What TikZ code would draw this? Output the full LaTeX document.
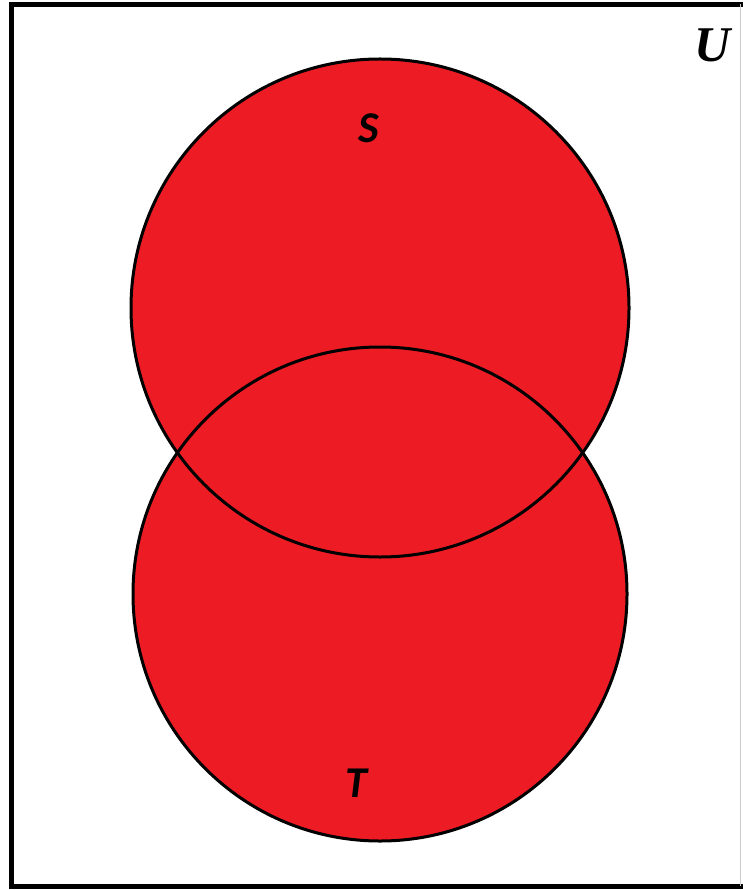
\documentclass[tikz,border=0pt]{standalone}
\usepackage{fontspec}
\newfontfamily\labelfont{Carlito}
\newfontfamily\univfont{Liberation Serif}
\begin{document}
\begin{tikzpicture}[x=1pt, y=-1pt,
  set/.style={draw=black, line width=3pt},
  frame/.style={draw=black, line width=5pt},
  setlabel/.style={font=\labelfont\bfseries\itshape\fontsize{44}{44}\selectfont, inner sep=0pt}]
  \definecolor{setred}{HTML}{ED1C24}
  \useasboundingbox (0,0) rectangle (743,890);
  \fill[setred] (380,308) circle[radius=249];
  \fill[setred] (380,594) circle[radius=247];
  \draw[set] (380,308) circle[radius=249];
  \draw[set] (380,594) circle[radius=247];
  \draw[frame] (743,4.5) -- (11.5,4.5) -- (11.5,886) -- (743,886);
  \draw[gray!40, line width=1pt] (740.5,4.5) -- (740.5,886);
  \node[setlabel] (s) at (369,128) {S};
  \node[setlabel] (t) at (356,783) {T};
  \node[font=\univfont\bfseries\itshape\fontsize{50}{50}\selectfont, inner sep=0pt] (u) at (713,45) {U};
\end{tikzpicture}
\end{document}
